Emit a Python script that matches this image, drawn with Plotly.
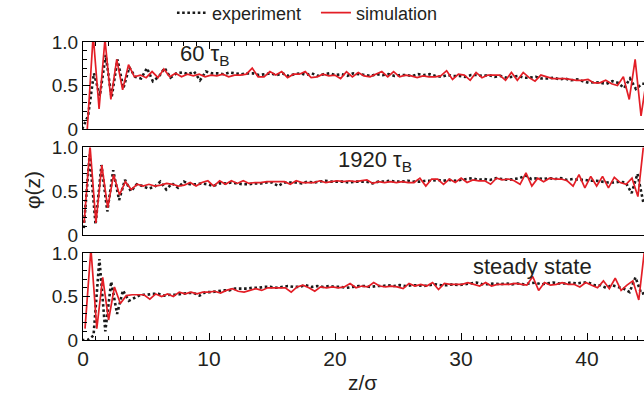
import plotly.graph_objects as go

# ---------------- data ----------------
step = 0.4675  # sampling step in z/sigma

sim_60_z0 = 0.34
sim_60 = [0.0, 1.08, 0.23, 1.03, 0.34, 0.80, 0.45, 0.74, 0.60, 0.62,
          0.59, 0.66, 0.59, 0.69, 0.60, 0.64, 0.60, 0.63, 0.61, 0.63,
          0.60, 0.62, 0.61, 0.63, 0.60, 0.62, 0.62, 0.63, 0.70, 0.60,
          0.60, 0.66, 0.62, 0.66, 0.59, 0.63, 0.63, 0.66, 0.59, 0.60,
          0.63, 0.61, 0.62, 0.58, 0.66, 0.60, 0.65, 0.61, 0.60, 0.63,
          0.66, 0.60, 0.66, 0.60, 0.62, 0.61, 0.59, 0.61, 0.60, 0.60,
          0.61, 0.67, 0.57, 0.63, 0.62, 0.56, 0.65, 0.59, 0.62, 0.62,
          0.62, 0.56, 0.65, 0.56, 0.65, 0.59, 0.55, 0.62, 0.60, 0.58,
          0.58, 0.58, 0.57, 0.56, 0.56, 0.57, 0.53, 0.53, 0.56, 0.52,
          0.50, 0.60, 0.34, 0.80, 0.15, 0.60]

exp_60_z0 = -0.0675
exp_60 = [0.0, 0.15, 0.64, 0.38, 0.85, 0.36, 0.80, 0.47, 0.71, 0.60,
          0.58, 0.70, 0.55, 0.60, 0.70, 0.59, 0.64, 0.65, 0.63, 0.66,
          0.56, 0.66, 0.64, 0.64, 0.63, 0.65, 0.64, 0.63, 0.64, 0.64,
          0.62, 0.63, 0.64, 0.62, 0.64, 0.61, 0.63, 0.64, 0.62, 0.64,
          0.61, 0.63, 0.64, 0.62, 0.63, 0.61, 0.64, 0.63, 0.62, 0.61,
          0.63, 0.62, 0.63, 0.61, 0.62, 0.62, 0.61, 0.63, 0.62, 0.63,
          0.61, 0.60, 0.62, 0.61, 0.61, 0.60, 0.62, 0.62, 0.61, 0.62,
          0.60, 0.61, 0.59, 0.60, 0.61, 0.59, 0.59, 0.60, 0.58, 0.58,
          0.59, 0.57, 0.58, 0.56, 0.57, 0.55, 0.53, 0.54, 0.53, 0.52,
          0.55, 0.53, 0.47, 0.58, 0.46, 0.52, 0.52]

sim_1920_z0 = 0.09
sim_1920 = [0.14, 1.02, 0.14, 0.80, 0.31, 0.69, 0.46, 0.61, 0.52, 0.58,
            0.56, 0.58, 0.56, 0.57, 0.59, 0.58, 0.56, 0.57, 0.60, 0.56,
            0.60, 0.62, 0.56, 0.62, 0.58, 0.62, 0.59, 0.62, 0.59, 0.60,
            0.60, 0.61, 0.61, 0.61, 0.61, 0.58, 0.62, 0.60, 0.60, 0.60,
            0.62, 0.60, 0.61, 0.62, 0.61, 0.62, 0.61, 0.62, 0.63, 0.59,
            0.61, 0.60, 0.61, 0.60, 0.61, 0.60, 0.60, 0.65, 0.56, 0.64,
            0.64, 0.58, 0.64, 0.60, 0.65, 0.60, 0.63, 0.62, 0.62, 0.58,
            0.65, 0.63, 0.64, 0.62, 0.58, 0.71, 0.56, 0.65, 0.61, 0.65,
            0.64, 0.64, 0.62, 0.56, 0.69, 0.54, 0.67, 0.56, 0.67, 0.54,
            0.66, 0.60, 0.58, 0.65, 0.44, 1.05]

exp_1920_z0 = 0.06
exp_1920 = [0.08, 0.92, 0.12, 0.80, 0.27, 0.74, 0.40, 0.63, 0.50, 0.58,
            0.56, 0.53, 0.55, 0.61, 0.52, 0.59, 0.54, 0.61, 0.58, 0.58,
            0.59, 0.58, 0.56, 0.59, 0.59, 0.60, 0.59, 0.58, 0.58, 0.59,
            0.59, 0.60, 0.60, 0.56, 0.60, 0.60, 0.60, 0.59, 0.61, 0.60,
            0.61, 0.62, 0.61, 0.61, 0.61, 0.60, 0.61, 0.61, 0.61, 0.59,
            0.61, 0.61, 0.62, 0.61, 0.61, 0.62, 0.61, 0.61, 0.62, 0.62,
            0.63, 0.62, 0.63, 0.62, 0.63, 0.64, 0.65, 0.63, 0.64, 0.63,
            0.65, 0.64, 0.63, 0.64, 0.65, 0.68, 0.64, 0.65, 0.64, 0.65,
            0.64, 0.65, 0.63, 0.64, 0.63, 0.63, 0.62, 0.62, 0.61, 0.60,
            0.60, 0.61, 0.60, 0.48, 0.70, 0.37]

sim_ss_z0 = 0.16
sim_ss = [0.13, 1.05, 0.13, 0.72, 0.23, 0.61, 0.42, 0.51, 0.52, 0.52,
          0.52, 0.47, 0.53, 0.50, 0.53, 0.50, 0.55, 0.53, 0.55, 0.53,
          0.55, 0.55, 0.56, 0.54, 0.57, 0.59, 0.56, 0.55, 0.57, 0.59,
          0.57, 0.60, 0.60, 0.60, 0.60, 0.55, 0.61, 0.63, 0.60, 0.56,
          0.61, 0.60, 0.61, 0.60, 0.61, 0.65, 0.60, 0.62, 0.61, 0.66,
          0.62, 0.61, 0.62, 0.61, 0.59, 0.65, 0.62, 0.64, 0.62, 0.66,
          0.58, 0.65, 0.64, 0.64, 0.64, 0.66, 0.64, 0.62, 0.66, 0.62,
          0.64, 0.64, 0.64, 0.65, 0.64, 0.63, 0.73, 0.57, 0.66, 0.63,
          0.64, 0.66, 0.64, 0.64, 0.61, 0.66, 0.63, 0.60, 0.68, 0.59,
          0.71, 0.57, 0.63, 0.68, 0.46, 1.05]

exp_ss_z0 = -0.1
exp_ss = [0.0, 0.0, 0.05, 0.93, 0.10, 0.67, 0.30, 0.57, 0.45, 0.49,
          0.52, 0.52, 0.53, 0.53, 0.51, 0.52, 0.52, 0.53, 0.54, 0.54,
          0.51, 0.55, 0.55, 0.56, 0.57, 0.57, 0.59, 0.59, 0.59, 0.60,
          0.60, 0.61, 0.61, 0.60, 0.61, 0.62, 0.61, 0.61, 0.63, 0.61,
          0.62, 0.61, 0.62, 0.61, 0.61, 0.60, 0.61, 0.62, 0.62, 0.61,
          0.62, 0.62, 0.63, 0.62, 0.63, 0.62, 0.63, 0.63, 0.62, 0.63,
          0.64, 0.63, 0.63, 0.64, 0.63, 0.64, 0.65, 0.66, 0.64, 0.64,
          0.65, 0.64, 0.65, 0.64, 0.65, 0.64, 0.65, 0.66, 0.64, 0.65,
          0.66, 0.65, 0.65, 0.66, 0.65, 0.66, 0.66, 0.63, 0.63, 0.60,
          0.63, 0.61, 0.59, 0.55, 0.72, 0.53, 0.55]

panel_labels = ["60 τ<sub>B</sub>", "1920 τ<sub>B</sub>", "steady state"]
label_z = [7.5, 20.1, 30.8]
x_ticks = [0, 10, 20, 30, 40]
y_ticks = [0, 0.5, 1.0]
y_ticktext = ["0", "0.5", "1.0"]


def grid(z0, n):
    return [round(z0 + step * i, 4) for i in range(n)]


panels = [
    (exp_60_z0, exp_60, sim_60_z0, sim_60),
    (exp_1920_z0, exp_1920, sim_1920_z0, sim_1920),
    (exp_ss_z0, exp_ss, sim_ss_z0, sim_ss),
]

# ---------------- figure ----------------
FONT = "Liberation Sans, Arial, Helvetica, sans-serif"
TXT = "#231f20"
RED = "#e31e26"

fig = go.Figure()
for k, (ez0, ev, sz0, sv) in enumerate(panels):
    ax = "" if k == 0 else str(k + 1)
    fig.add_trace(go.Scatter(
        x=grid(ez0, len(ev)), y=ev, mode="lines", name="experiment",
        line=dict(color="#1a1a1a", width=2.6, dash="2.6px,2.6px"),
        showlegend=(k == 0), xaxis="x" + ax, yaxis="y" + ax))
    fig.add_trace(go.Scatter(
        x=grid(sz0, len(sv)), y=sv, mode="lines", name="simulation",
        line=dict(color=RED, width=1.7),
        showlegend=(k == 0), xaxis="x" + ax, yaxis="y" + ax))

domains = [[0.708, 1.0], [0.352, 0.646], [0.0, 0.292]]
layout = dict(
    width=644, height=400,
    margin=dict(l=83, r=0, t=42, b=60),
    paper_bgcolor="white", plot_bgcolor="white",
    font=dict(family=FONT, color=TXT, size=19),
    legend=dict(orientation="h", xref="container", yref="container",
                x=0.267, y=0.9675, xanchor="left", yanchor="middle",
                font=dict(size=18, family=FONT, color=TXT),
                bgcolor="rgba(0,0,0,0)", entrywidth=99, entrywidthmode="pixels",
                traceorder="normal"),
)

for k in range(3):
    ax = "" if k == 0 else str(k + 1)
    xa = dict(
        domain=[0, 1], range=[0, 44.52], anchor="y" + ax,
        showline=True, linecolor="black", linewidth=1.3, mirror=True,
        showgrid=False, zeroline=False, tickvals=x_ticks,
        ticklen=7, tickwidth=1.2, tickcolor="black",
        tickfont=dict(size=21, family=FONT, color=TXT),
    )
    if k == 0:
        xa.update(side="top", ticks="inside", showticklabels=False,
                  minor=dict(dtick=1, ticklen=4, tickwidth=1, tickcolor="black", ticks="inside"))
    elif k == 1:
        xa.update(ticks="", showticklabels=False, minor=dict(ticks=""))
    else:
        xa.update(side="bottom", ticks="inside", showticklabels=True,
                  minor=dict(dtick=1, ticklen=4, tickwidth=1, tickcolor="black", ticks="inside"))
    ya = dict(
        domain=domains[k], range=[0, 1], anchor="x" + ax,
        showline=True, linecolor="black", linewidth=1.3, mirror=False,
        showgrid=False, zeroline=False,
        tickvals=y_ticks, ticktext=y_ticktext, ticks="inside",
        ticklen=7, tickwidth=1.2, tickcolor="black",
        tickfont=dict(size=19, family=FONT, color=TXT),
        minor=dict(dtick=0.1, ticklen=4, tickwidth=1, tickcolor="black", ticks="inside"),
    )
    layout["xaxis" + ax] = xa
    layout["yaxis" + ax] = ya

fig.update_layout(**layout)

for k in range(3):
    ax = "" if k == 0 else str(k + 1)
    fig.add_annotation(x=label_z[k], y=0.85, xref="x" + ax, yref="y" + ax,
                       text=panel_labels[k], showarrow=False, xanchor="left", yanchor="middle",
                       font=dict(size=22, family=FONT, color=TXT))

fig.add_annotation(x=-0.091, y=0.503, xref="paper", yref="paper", text="φ(z)",
                   textangle=-90, showarrow=False, xanchor="center", yanchor="middle",
                   font=dict(size=21, family=FONT, color=TXT))
fig.add_annotation(x=0.499, y=-0.141, xref="paper", yref="paper", text="z/σ",
                   showarrow=False, xanchor="center", yanchor="middle",
                   font=dict(size=21, family=FONT, color=TXT))

fig.write_html(
    "out.html",
    config={"displayModeBar": False},
    post_script="document.body.style.margin='0';document.body.style.overflow='hidden';"
                "document.documentElement.style.overflow='hidden';",
)
